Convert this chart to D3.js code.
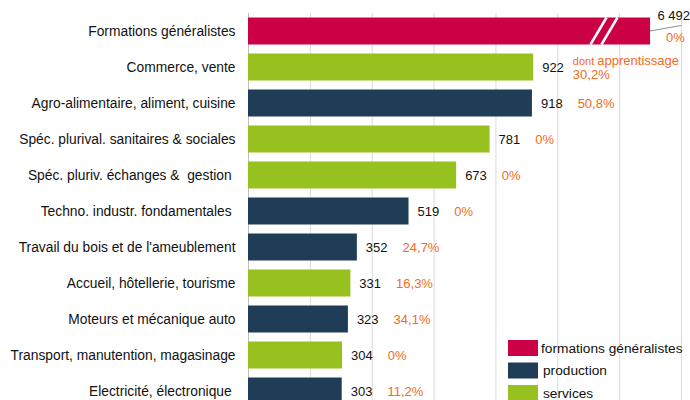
<!DOCTYPE html>
<html>
<head>
<meta charset="utf-8">
<script src="https://cdn.jsdelivr.net/npm/d3@7"></script>
<style>
  body { margin: 0; background: #fff; }
  svg { display: block; font-family: "Liberation Sans", Arial, sans-serif; }
</style>
</head>
<body>
<svg id="chart" width="690" height="400"></svg>
<script>
// data
const categories = [
  "Formations généralistes",
  "Commerce, vente",
  "Agro-alimentaire, aliment, cuisine",
  "Spéc. plurival. sanitaires & sociales",
  "Spéc. pluriv. échanges &  gestion ",
  "Techno. industr. fondamentales ",
  "Travail du bois et de l'ameublement",
  "Accueil, hôtellerie, tourisme",
  "Moteurs et mécanique auto",
  "Transport, manutention, magasinage",
  "Electricité, électronique ",
];
const values = [6492, 922, 918, 781, 673, 519, 352, 331, 323, 304, 303];
const valueLabels = ["6 492", "922", "918", "781", "673", "519", "352", "331", "323", "304", "303"];
const apprentissage = ["0%", "30,2%", "50,8%", "0%", "0%", "0%", "24,7%", "16,3%", "34,1%", "0%", "11,2%"];
const groups = ["gen", "serv", "prod", "serv", "serv", "prod", "prod", "serv", "prod", "serv", "prod"];
const legendLabels = ["formations généralistes", "production", "services"];
const xTicks = [0, 200, 400, 600, 800, 1000, 1200, 1400];

const colors = { gen: "#cc0044", prod: "#1f3d56", serv: "#96c11f" };
const legendKeys = ["gen", "prod", "serv"];
const orange = "#f36a21";
const breakAt = 1300; // the big bar is cut here

const svg = d3.select("#chart");

const x = d3.scaleLinear().domain([0, 1400]).range([248, 681]);
const y = d3.scaleBand().domain(categories).range([13, 409])
  .paddingInner(0.25).paddingOuter(0.125);

// gridlines
svg.append("g")
  .selectAll("line")
  .data(xTicks)
  .join("line")
  .attr("x1", d => x(d) + 0.5)
  .attr("x2", d => x(d) + 0.5)
  .attr("y1", 13)
  .attr("y2", 400)
  .attr("stroke", d => d === 0 ? "#bfbfbf" : "#dadada")
  .attr("stroke-width", 1);

const rows = categories.map((c, i) => ({
  cat: c, value: values[i], label: valueLabels[i], pct: apprentissage[i], group: groups[i], i: i
}));

// bars
svg.append("g")
  .selectAll("rect")
  .data(rows)
  .join("rect")
  .attr("x", x(0))
  .attr("y", d => y(d.cat))
  .attr("width", d => x(Math.min(d.value, breakAt)) - x(0))
  .attr("height", y.bandwidth())
  .attr("fill", d => colors[d.group]);

// break marks on the big bar
const big = rows[0];
const by0 = y(big.cat), by1 = y(big.cat) + y.bandwidth();
[0, 11].forEach(off => {
  svg.append("line")
    .attr("x1", 590.5 + off).attr("y1", by1)
    .attr("x2", 606.5 + off).attr("y2", by0)
    .attr("stroke", "#fff")
    .attr("stroke-width", 2.5);
});

// category labels
svg.append("g")
  .selectAll("text")
  .data(rows)
  .join("text")
  .attr("x", 235.5)
  .attr("y", d => y(d.cat) + y.bandwidth() / 2)
  .attr("dy", "0.35em")
  .attr("text-anchor", "end")
  .style("white-space", "pre")
  .attr("font-size", 13.8)
  .attr("fill", "#111")
  .text(d => d.cat);

// value + share labels
const lab = svg.append("g");
rows.slice(1).forEach(d => {
  const cy = y(d.cat) + y.bandwidth() / 2;
  const vx = x(d.value) + 9;
  const t = lab.append("text")
    .attr("x", vx).attr("y", cy).attr("dy", "0.35em")
    .attr("font-size", 13).attr("fill", "#111")
    .text(d.label);
  const w = t.node().getComputedTextLength();
  if (d.i === 1) {
    const a = lab.append("text")
      .attr("x", vx + w + 9).attr("y", cy - 7).attr("dy", "0.35em")
      .attr("font-size", 13).attr("fill", orange);
    a.append("tspan").attr("font-size", 11).text("dont ");
    a.append("tspan").text("apprentissage");
    lab.append("text")
      .attr("x", vx + w + 9).attr("y", cy + 7).attr("dy", "0.35em")
      .attr("font-size", 13).attr("fill", orange)
      .text(d.pct);
  } else {
    lab.append("text")
      .attr("x", vx + w + 15).attr("y", cy).attr("dy", "0.35em")
      .attr("font-size", 13).attr("fill", orange)
      .text(d.pct);
  }
});

// big bar labels with leader
const bend = x(breakAt);
svg.append("line")
  .attr("x1", bend).attr("y1", by0 + 13.5)
  .attr("x2", 681).attr("y2", by0 + 8)
  .attr("stroke", "#8c8c8c").attr("stroke-width", 1);
svg.append("text")
  .attr("x", 690).attr("y", 15).attr("dy", "0.35em")
  .attr("text-anchor", "end")
  .attr("font-size", 13).attr("fill", "#111")
  .text(big.label);
svg.append("text")
  .attr("x", 666).attr("y", 37).attr("dy", "0.35em")
  .attr("font-size", 13).attr("fill", orange)
  .text(big.pct);

// legend
const legend = svg.append("g")
  .selectAll("g")
  .data(legendKeys)
  .join("g")
  .attr("transform", (d, i) => `translate(508, ${340 + i * 22.5})`);
legend.append("rect")
  .attr("width", 30).attr("height", 16)
  .attr("fill", d => colors[d]);
legend.append("text")
  .attr("x", (d, i) => i === 0 ? 33 : 35)
  .attr("y", 8).attr("dy", "0.35em")
  .attr("font-size", 13.7).attr("fill", "#111")
  .text((d, i) => legendLabels[i]);
</script>
</body>
</html>
